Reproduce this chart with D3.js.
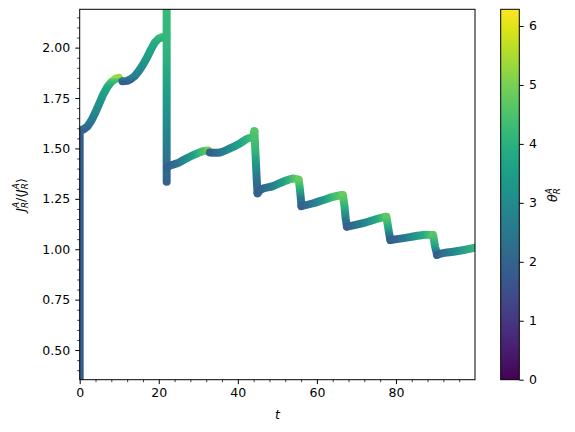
<!DOCTYPE html>
<html>
<head>
<meta charset="utf-8">
<script src="https://cdn.jsdelivr.net/npm/d3@7"></script>
<style>
  body { margin: 0; background: #fff; }
  svg { display: block; font-family: "DejaVu Sans", sans-serif; }
</style>
</head>
<body>
<div id="chart"></div>
<script>
/* J_R / <J_R> against t, coloured by theta_R */

// each run is one stretch of the trajectory, drawn in time order
const runT = [
    [0, 0],
    [0, 1, 2, 3, 4, 5, 6, 7, 8, 9, 9.9],
    [10.8, 12, 13, 14, 15, 16, 17, 18, 19, 20, 21, 21.9],
    [22.0, 22.0, 22.0, 22.0, 22.0, 22.0],
    [22.1, 22.8, 24.5, 26.2, 28.7, 31.3, 32.5],
    [32.9, 35.5, 38.0, 40.5, 42.6, 43.6, 44.2],
    [44.2, 44.4, 44.6, 44.8, 45.0],
    [45.0, 46.0, 48.9, 51.5, 54.0, 55.3],
    [55.4, 55.7, 55.9, 56.1],
    [56.1, 59.1, 61.6, 64.1, 66.3],
    [66.6, 67.0, 67.3, 67.6],
    [67.6, 68.4, 71.7, 75.1, 77.2],
    [77.6, 78.0, 78.3, 78.6],
    [78.6, 80.2, 83.5, 86.9, 89.0],
    [89.4, 89.9, 90.2, 90.4],
    [90.4, 91.6, 95.3, 100]
];
const runJ = [
    [0.30, 1.59],
    [1.59, 1.595, 1.61, 1.64, 1.68, 1.725, 1.77, 1.805, 1.83, 1.845, 1.85],
    [1.833, 1.835, 1.845, 1.86, 1.885, 1.915, 1.95, 1.99, 2.025, 2.045, 2.052, 2.055],
    [2.30, 2.00, 1.80, 1.65, 1.50, 1.335],
    [1.405, 1.415, 1.425, 1.442, 1.467, 1.487, 1.49],
    [1.48, 1.48, 1.50, 1.525, 1.55, 1.555, 1.585],
    [1.585, 1.50, 1.42, 1.34, 1.277],
    [1.28, 1.298, 1.313, 1.335, 1.351, 1.345],
    [1.345, 1.30, 1.26, 1.215],
    [1.214, 1.228, 1.244, 1.26, 1.269],
    [1.269, 1.21, 1.15, 1.112],
    [1.112, 1.115, 1.129, 1.15, 1.161],
    [1.161, 1.112, 1.075, 1.046],
    [1.046, 1.05, 1.06, 1.071, 1.071],
    [1.071, 1.013, 0.99, 0.972],
    [0.972, 0.98, 0.99, 1.008]
];
const runTheta = [
    [1.85, 1.9],
    [1.9, 2.05, 2.3, 2.6, 2.9, 3.2, 3.5, 3.8, 4.2, 4.7, 5.3],
    [1.9, 2.1, 2.4, 2.7, 2.95, 3.2, 3.45, 3.7, 3.9, 4.05, 4.15, 4.2],
    [4.3, 4.1, 3.6, 3.1, 2.6, 2.0],
    [1.9, 2.0, 2.4, 2.9, 3.6, 4.5, 5.1],
    [1.9, 2.5, 3.1, 3.7, 4.2, 4.4, 4.6],
    [4.6, 4.2, 3.3, 2.3, 2.0],
    [1.9, 2.0, 2.8, 3.6, 4.5, 4.8],
    [4.8, 4.0, 2.6, 2.0],
    [1.9, 2.6, 3.4, 4.3, 4.8],
    [4.8, 4.0, 2.5, 2.0],
    [1.9, 2.0, 2.8, 3.8, 4.7],
    [4.7, 3.9, 2.6, 2.0],
    [1.9, 2.1, 2.9, 3.9, 4.6],
    [4.6, 3.5, 2.5, 2.0],
    [1.9, 2.2, 3.1, 4.2]
];

const xTicks = [0, 20, 40, 60, 80];
const xMinor = [4, 8, 12, 16, 24, 28, 32, 36, 44, 48, 52, 56, 64, 68, 72, 76, 84, 88, 92, 96];
const yTicks = [0.50, 0.75, 1.00, 1.25, 1.50, 1.75, 2.00];
const yMinor = [0.40, 0.45, 0.55, 0.60, 0.65, 0.70, 0.80, 0.85, 0.90, 0.95,
    1.05, 1.10, 1.15, 1.20, 1.30, 1.35, 1.40, 1.45, 1.55, 1.60, 1.65, 1.70,
    1.80, 1.85, 1.90, 1.95, 2.05, 2.10, 2.15];
const cbTicks = [0, 1, 2, 3, 4, 5, 6];

// page layout
const width = 575,
    height = 432,
    plot = { left: 79.7, right: 475, top: 9.3, bottom: 379.7 },
    bar = { left: 500.7, right: 519.3 },
    fs = 12.5;

let svg = d3.select("#chart")
    .append("svg")
    .attr("width", width)
    .attr("height", height)
    .attr("viewBox", [0, 0, width, height]);

let defs = svg.append("defs");

let x = d3.scaleLinear().domain([0, 100]).range([plot.left, plot.right]);
let y = d3.scaleLinear().domain([0.353, 2.19]).range([plot.bottom, plot.top]);
let c = d3.scaleLinear().domain([0, 2 * Math.PI]).range([plot.bottom, plot.top]);
let colour = th => d3.interpolateViridis(th / (2 * Math.PI));

defs.append("clipPath").attr("id", "clip")
    .append("rect")
    .attr("x", plot.left).attr("y", plot.top)
    .attr("width", plot.right - plot.left)
    .attr("height", plot.bottom - plot.top);

// trajectory, one stroke per run with a gradient along it
let lineGen = d3.line().x(d => d[0]).y(d => d[1]);
let marks = svg.append("g").attr("clip-path", "url(#clip)");

runT.forEach((ts, i) => {
    let pts = ts.map((t, k) => [x(t), y(runJ[i][k]), runTheta[i][k]]);
    let first = pts[0], last = pts[pts.length - 1];
    let horiz = Math.abs(last[0] - first[0]) >= Math.abs(last[1] - first[1]);
    let grad = defs.append("linearGradient")
        .attr("id", "run" + i)
        .attr("gradientUnits", "userSpaceOnUse")
        .attr("x1", horiz ? first[0] : 0).attr("x2", horiz ? last[0] : 0)
        .attr("y1", horiz ? 0 : first[1]).attr("y2", horiz ? 0 : last[1]);
    pts.forEach(p => {
        let off = horiz ? (p[0] - first[0]) / (last[0] - first[0])
                        : (p[1] - first[1]) / (last[1] - first[1]);
        grad.append("stop").attr("offset", off).attr("stop-color", colour(p[2]));
    });
    marks.append("path")
        .attr("d", lineGen.curve(horiz ? d3.curveCatmullRom : d3.curveLinear)(pts))
        .attr("fill", "none")
        .attr("stroke", `url(#run${i})`)
        .attr("stroke-width", 8)
        .attr("stroke-linecap", "round")
        .attr("stroke-linejoin", "round");
});

// axes
function styleAxis(g) {
    g.select(".domain").remove();
    g.selectAll("line").attr("stroke", "#000");
    g.selectAll("text").attr("font-size", fs).attr("fill", "#000")
        .attr("font-family", "DejaVu Sans, sans-serif");
}

svg.append("g")
    .attr("transform", `translate(${plot.left},0)`)
    .call(d3.axisLeft(y).tickValues(yTicks).tickFormat(d3.format(".2f")).tickSize(4.4).tickPadding(5.2))
    .call(styleAxis);

svg.append("g")
    .attr("transform", `translate(${plot.left},0)`)
    .call(d3.axisLeft(y).tickValues(yMinor).tickFormat("").tickSize(2.5))
    .call(styleAxis)
    .selectAll("line").attr("stroke-width", 0.75);

svg.append("g")
    .attr("transform", `translate(0,${plot.bottom})`)
    .call(d3.axisBottom(x).tickValues(xTicks).tickSize(4.4).tickPadding(4.4))
    .call(styleAxis);

svg.append("g")
    .attr("transform", `translate(0,${plot.bottom})`)
    .call(d3.axisBottom(x).tickValues(xMinor).tickFormat("").tickSize(2.5))
    .call(styleAxis)
    .selectAll("line").attr("stroke-width", 0.75);

// plot frame
svg.append("rect")
    .attr("x", plot.left).attr("y", plot.top)
    .attr("width", plot.right - plot.left)
    .attr("height", plot.bottom - plot.top)
    .attr("fill", "none").attr("stroke", "#000").attr("stroke-width", 1);

// colour bar
let cbGrad = defs.append("linearGradient")
    .attr("id", "cb").attr("x1", 0).attr("x2", 0).attr("y1", 1).attr("y2", 0);
d3.range(0, 1.0001, 0.05).forEach(f => {
    cbGrad.append("stop").attr("offset", f).attr("stop-color", d3.interpolateViridis(f));
});

svg.append("rect")
    .attr("x", bar.left).attr("y", plot.top)
    .attr("width", bar.right - bar.left)
    .attr("height", plot.bottom - plot.top)
    .attr("fill", "url(#cb)")
    .attr("stroke", "#000").attr("stroke-width", 1);

svg.append("g")
    .attr("transform", `translate(${bar.right},0)`)
    .call(d3.axisRight(c).tickValues(cbTicks).tickFormat(d3.format("d")).tickSize(4.4).tickPadding(5.2))
    .call(styleAxis);

// labels with stacked super/subscripts
function mathLabel(g, pieces) {
    let inner = g.append("g");
    let pos = 0;
    for (let p of pieces) {
        if (p.text) {
            let e = inner.append("text")
                .attr("x", pos).attr("font-size", fs)
                .attr("font-style", p.italic ? "italic" : "normal")
                .text(p.text);
            pos += e.node().getComputedTextLength();
        } else {
            let a = inner.append("text")
                .attr("x", pos).attr("y", -fs * 0.42).attr("font-size", fs * 0.7)
                .attr("font-style", "italic").text(p.sup);
            let b = inner.append("text")
                .attr("x", pos).attr("y", fs * 0.25).attr("font-size", fs * 0.7)
                .attr("font-style", "italic").text(p.sub);
            pos += Math.max(a.node().getComputedTextLength(), b.node().getComputedTextLength());
        }
    }
    inner.attr("transform", `translate(${-pos / 2},0)`);
}

let yLabel = svg.append("g").attr("transform", "translate(24.5,195) rotate(-90)");
mathLabel(yLabel, [
    { text: "J", italic: true }, { sup: "A", sub: "R" },
    { text: "/\u27e8" },
    { text: "J", italic: true }, { sup: "A", sub: "R" },
    { text: "\u27e9" }
]);

let cbLabel = svg.append("g").attr("transform", "translate(557,195) rotate(-90)");
mathLabel(cbLabel, [{ text: "\u03b8", italic: true }, { sup: "A", sub: "R" }]);

svg.append("text")
    .attr("x", (plot.left + plot.right) / 2)
    .attr("y", 419)
    .attr("text-anchor", "middle")
    .attr("font-size", fs)
    .attr("font-style", "italic")
    .text("t");
</script>
</body>
</html>
